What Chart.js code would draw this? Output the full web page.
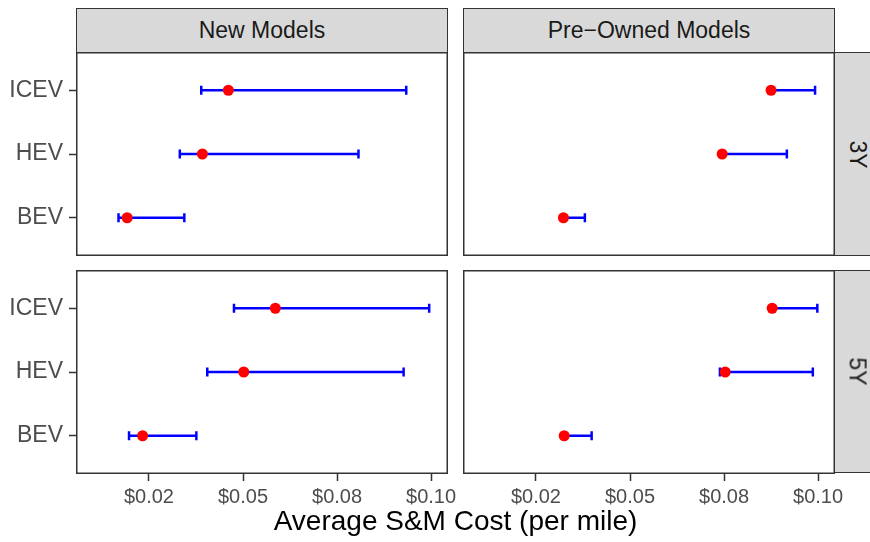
<!DOCTYPE html>
<html>
<head>
<meta charset="utf-8">
<script src="https://cdn.jsdelivr.net/npm/chart.js@4.4.1/dist/chart.umd.min.js"></script>
<style>
  body { margin: 0; width: 870px; height: 542px; overflow: hidden; background: #fff; position: relative;
         font-family: "Liberation Sans", Arial, sans-serif; }
  canvas { position: absolute; }
  .strip { position: absolute; background: #d9d9d9; border: 1.5px solid #333; box-sizing: border-box;
           display: flex; align-items: center; justify-content: center; color: #1a1a1a; font-size: 23px; }
  .strip span.v { transform: rotate(90deg); display: inline-block; }
  #xtitle { position: absolute; left: 0; width: 911px; top: 505px; text-align: center; font-size: 28px; color: #000; }
</style>
</head>
<body>

<canvas id="c11" width="448" height="204" style="left:0;top:52px"></canvas>
<canvas id="c12" width="372" height="204" style="left:463px;top:52px"></canvas>
<canvas id="c21" width="463" height="245" style="left:0;top:270px"></canvas>
<canvas id="c22" width="387" height="245" style="left:463px;top:270px"></canvas>

<div class="strip" id="s_col1" style="left:76px;top:8px;width:372px;height:45px"></div>
<div class="strip" id="s_col2" style="left:463px;top:8px;width:372px;height:45px"></div>
<div class="strip" id="s_row1" style="left:834px;top:52px;width:46px;height:204px"></div>
<div class="strip" id="s_row2" style="left:834px;top:270px;width:46px;height:203px"></div>
<div id="xtitle"></div>

<script>
// ---------------- data ----------------
var categories = ['BEV', 'HEV', 'ICEV'];          // bottom to top
var columns = ['New Models', 'Pre\u2212Owned Models'];
var rows = ['3Y', '5Y'];
var xTickValues = [0.025, 0.05, 0.075, 0.1];
var xTickLabels = ['$0.02', '$0.05', '$0.08', '$0.10'];
var xTitle = 'Average S&M Cost (per mile)';

// 3Y - new
var new3Low  = [0.0169, 0.0332, 0.0389];
var new3Mean = [0.0192, 0.0392, 0.0461];
var new3High = [0.0344, 0.0807, 0.0934];
// 3Y - pre-owned
var used3Low  = [0.0321, 0.0743, 0.0873];
var used3Mean = [0.0323, 0.0745, 0.0875];
var used3High = [0.0380, 0.0917, 0.0992];
// 5Y - new
var new5Low  = [0.0197, 0.0405, 0.0476];
var new5Mean = [0.0233, 0.0502, 0.0586];
var new5High = [0.0376, 0.0927, 0.0995];
// 5Y - pre-owned
var used5Low  = [0.0323, 0.0739, 0.0876];
var used5Mean = [0.0325, 0.0753, 0.0878];
var used5High = [0.0398, 0.0986, 0.0998];

var xMin = 0.0056, xMax = 0.1045;

// ---------------- strips / title ----------------
document.getElementById('s_col1').textContent = columns[0];
document.getElementById('s_col2').textContent = columns[1];
document.getElementById('s_row1').innerHTML = '<span class="v">' + rows[0] + '</span>';
document.getElementById('s_row2').innerHTML = '<span class="v">' + rows[1] + '</span>';
document.getElementById('xtitle').textContent = xTitle;

// panel border
var panelBorder = {
  id: 'panelBorder',
  afterDraw: function(chart) {
    var a = chart.chartArea, ctx = chart.ctx;
    ctx.save();
    ctx.strokeStyle = '#333';
    ctx.lineWidth = 1.5;
    ctx.strokeRect(a.left + 0.75, a.top + 0.75, a.right - a.left - 1.5, a.bottom - a.top - 1.5);
    ctx.restore();
  }
};

// fixed axis sizes, no automatic label padding
function fixSize(s, size) {
  if (s.isHorizontal()) s.height = s.options.display ? size : 0;
  else s.width = s.options.display ? size : 0;
  s.paddingTop = 0; s.paddingBottom = 0; s.paddingLeft = 0; s.paddingRight = 0;
}

function panel(id, low, mean, high, showY, showX, padRight) {
  var points = mean.map(function(v, i) { return {x: v, y: i + 1}; });
  var caps = [];
  low.forEach(function(v, i) { caps.push({x: v, y: i + 1}); caps.push({x: high[i], y: i + 1}); });

  var datasets = [{
    data: points, pointRadius: 5.5, pointBackgroundColor: '#ff0000', pointBorderWidth: 0, order: 0
  }, {
    data: caps, pointStyle: 'line', pointRotation: 90, pointRadius: 4.5,
    pointBorderColor: '#0000ff', pointBorderWidth: 2.5, order: 1
  }];
  categories.forEach(function(c, i) {
    datasets.push({
      data: [{x: low[i], y: i + 1}, {x: high[i], y: i + 1}],
      showLine: true, borderColor: '#0000ff', borderWidth: 2.5, pointRadius: 0, order: 2
    });
  });

  new Chart(document.getElementById(id), {
    type: 'scatter',
    data: { datasets: datasets },
    options: {
      responsive: false, animation: false, devicePixelRatio: 1,
      layout: { autoPadding: false, padding: { left: 0, top: 0, bottom: 0, right: padRight || 0 } },
      plugins: { legend: { display: false }, tooltip: { enabled: false } },
      scales: {
        x: {
          type: 'linear', min: xMin, max: xMax, display: showX,
          afterBuildTicks: function(s) { s.ticks = xTickValues.map(function(v) { return {value: v}; }); },
          afterFit: function(s) { fixSize(s, 41); },
          border: { display: false },
          grid: { drawOnChartArea: false, drawTicks: true, tickLength: 7, tickColor: '#333', tickWidth: 1.5 },
          ticks: {
            color: '#4d4d4d', font: { family: 'Liberation Sans', size: 20 }, padding: 4, maxRotation: 0,
            callback: function(v) { return xTickLabels[xTickValues.indexOf(v)]; }
          }
        },
        y: {
          type: 'linear', min: 0.4, max: 3.6, display: showY,
          afterBuildTicks: function(s) { s.ticks = categories.map(function(c, i) { return {value: i + 1}; }); },
          afterFit: function(s) { fixSize(s, 76); },
          border: { display: false },
          grid: { drawOnChartArea: false, drawTicks: true, tickLength: 7, tickColor: '#333', tickWidth: 1.5 },
          ticks: {
            color: '#4d4d4d', font: { family: 'Liberation Sans', size: 23 }, padding: 6,
            callback: function(v) { return categories[v - 1]; }
          }
        }
      }
    },
    plugins: [panelBorder]
  });
}

panel('c11', new3Low, new3Mean, new3High, true, false);
panel('c12', used3Low, used3Mean, used3High, false, false);
panel('c21', new5Low, new5Mean, new5High, true, true, 15);
panel('c22', used5Low, used5Mean, used5High, false, true, 15);
</script>
</body>
</html>
